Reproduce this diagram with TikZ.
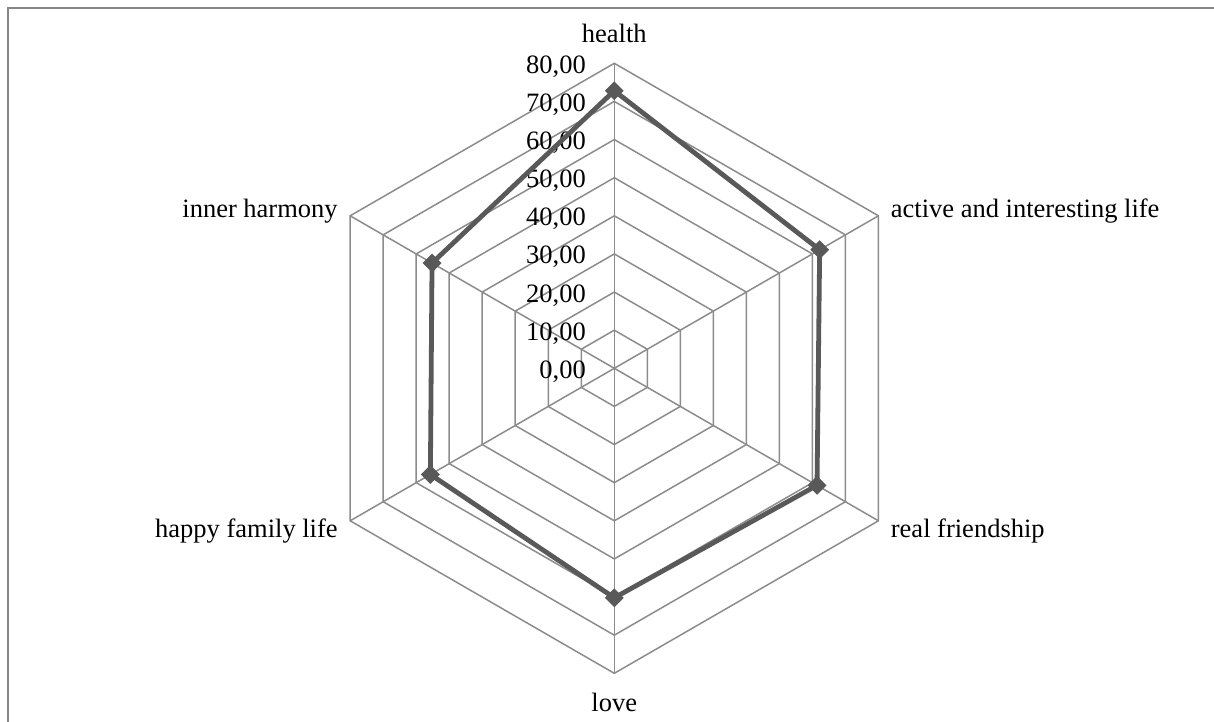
\documentclass[tikz,border=0pt]{standalone}
\usepackage{fontspec}
\setmainfont{Liberation Serif}
\usetikzlibrary{shapes.geometric}
\begin{document}
\begin{tikzpicture}[x=1pt,y=1pt,
  gridline/.style={draw=black!45, line width=1.5pt},
  frameline/.style={draw=black!47, line width=2pt},
  serieslinestyle/.style={draw=black!65, line width=4.8pt, line join=miter},
  markerbox/.style={diamond, fill=black!65, draw=none, inner sep=0pt, minimum size=19pt},
  lbl/.style={font=\fontsize{26.5}{30}\selectfont, inner sep=0pt, text=black}]
\useasboundingbox (-614.3,-352.7) rectangle (599.7,368.3);
\fill[white] (-614.3,-352.7) rectangle (599.7,368.3);
% frame (only top and left edges visible)
\coordinate (fbl) at (-605.8,-360);
\coordinate (ftl) at (-605.8,359.8);
\coordinate (ftr) at (610,359.8);
\draw[frameline] (fbl) -- (ftl) -- (ftr);
% center
\coordinate (O) at (0,0);
% grid hexagons
\foreach \k in {1,...,8}{
  \pgfmathsetmacro{\r}{\k*38.125}
  \draw[gridline] (90:\r) -- (30:\r) -- (-30:\r) -- (-90:\r) -- (-150:\r) -- (150:\r) -- cycle;
}
% spokes
\foreach \a/\n in {90/sa,30/sb,-30/sc,-90/sd,-150/se,150/sf}{
  \coordinate (\n) at (\a:305);
  \draw[gridline] (O) -- (\n);
}
% level labels
\node[lbl, anchor=base east] (lv0) at (-28.3,-10) {0,00};
\foreach \k in {1,...,8}{
  \node[lbl, anchor=base east] (lv\k) at (-28.3,\k*38.125-10) {\k0,00};
}
% axis labels
\node[lbl, anchor=base] (lhealth) at (0,325.3) {health};
\node[lbl, anchor=base west] (lactive) at (276.4,151.3) {active and interesting life};
\node[lbl, anchor=base west] (lfriend) at (276.4,-168.7) {real friendship};
\node[lbl, anchor=base] (llove) at (0,-342.7) {love};
\node[lbl, anchor=base east] (lfamily) at (-276.4,-168.7) {happy family life};
\node[lbl, anchor=base east] (lharmony) at (-276.4,151.3) {inner harmony};
% data points
\coordinate (d1) at (90:72.8*3.8125);
\coordinate (d2) at (30:62.2*3.8125);
\coordinate (d3) at (-30:61.4*3.8125);
\coordinate (d4) at (-90:60.2*3.8125);
\coordinate (d5) at (-150:55.7*3.8125);
\coordinate (d6) at (150:55.2*3.8125);
\draw[serieslinestyle] (d1) -- (d2) -- (d3) -- (d4) -- (d5) -- (d6) -- cycle;
\foreach \i in {1,...,6}{
  \node[markerbox] (m\i) at (d\i) {};
}
\end{tikzpicture}
\end{document}
